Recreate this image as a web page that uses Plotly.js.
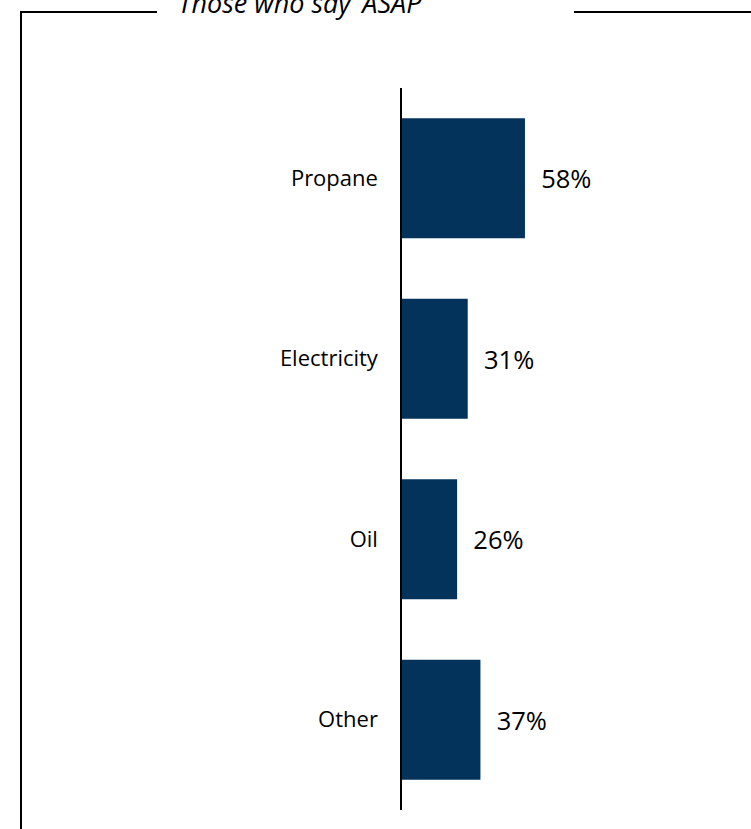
<!DOCTYPE html>
<html>
<head>
<meta charset="utf-8">
<script src="https://cdn.plot.ly/plotly-3.0.1.min.js"></script>
<style>html,body{margin:0;padding:0;background:#fff;}#chart{width:751px;height:829px;}</style>
</head>
<body>
<div id="chart"></div>
<script>
const categories = ["Propane", "Electricity", "Oil", "Other"];
const values = [58, 31, 26, 37];
const valueLabels = ["58%", "31%", "26%", "37%"];
const chartTitle = "Those who say \u2018ASAP\u2019";

const W = 751, H = 829;
const L = 402, R = 137, T = 88, B = 19;
const pw = W - L - R, ph = H - T - B;
const px = x => (x - L) / pw;
const py = y => (H - B - y) / ph;

const trace = {
  type: 'bar',
  orientation: 'h',
  y: categories,
  x: values,
  text: valueLabels,
  texttemplate: '\u00a0\u00a0%{text}',
  textposition: 'outside',
  cliponaxis: false,
  textfont: {family: 'Open Sans, sans-serif', size: 25.5, color: '#000'},
  marker: {color: '#03335b'},
  width: 0.664,
  hoverinfo: 'none'
};

const lineStyle = {color: '#000', width: 2};
const layout = {
  width: W, height: H,
  margin: {l: L, r: R, t: T, b: B, pad: 0},
  paper_bgcolor: '#fff', plot_bgcolor: '#fff',
  showlegend: false,
  xaxis: {range: [0, 100], visible: false, fixedrange: true},
  yaxis: {
    autorange: 'reversed',
    showline: true, linecolor: '#000', linewidth: 1.7,
    showgrid: false, zeroline: false, ticks: '',
    ticklabelstandoff: 18,
    tickfont: {family: 'Open Sans, sans-serif', size: 22, color: '#000'}
  },
  shapes: [
    {type: 'line', xref: 'paper', yref: 'paper', x0: px(21), x1: px(21), y0: py(12), y1: py(829), line: lineStyle},
    {type: 'line', xref: 'paper', yref: 'paper', x0: px(20), x1: px(157), y0: py(12), y1: py(12), line: lineStyle},
    {type: 'line', xref: 'paper', yref: 'paper', x0: px(574), x1: px(751), y0: py(12), y1: py(12), line: lineStyle}
  ],
  annotations: [
    {xref: 'paper', yref: 'paper', x: px(176), y: py(23), xanchor: 'left', yanchor: 'bottom',
     text: '<i>' + chartTitle + '</i>', showarrow: false,
     font: {family: 'Open Sans, sans-serif', size: 27, color: '#000'}}
  ]
};

Plotly.newPlot('chart', [trace], layout, {displayModeBar: false, staticPlot: true});
</script>
</body>
</html>
